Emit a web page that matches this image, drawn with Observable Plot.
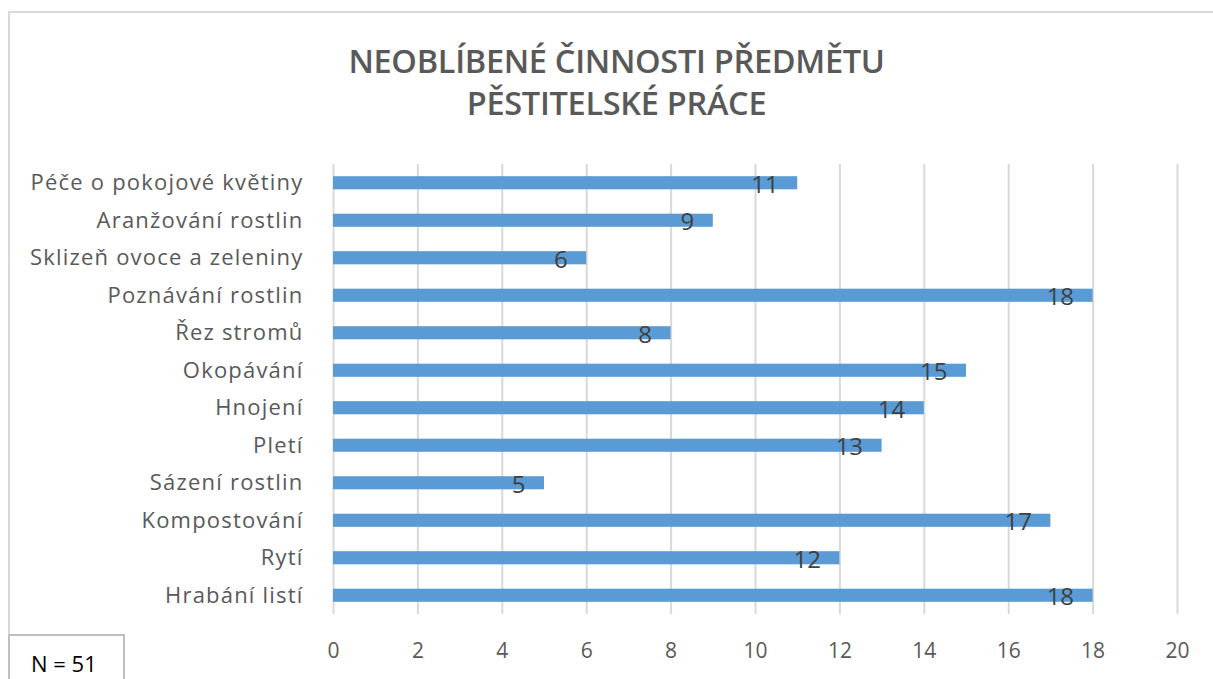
<!DOCTYPE html>
<html>
<head>
<meta charset="utf-8">
<script src="https://cdn.jsdelivr.net/npm/d3@7"></script>
<script src="https://cdn.jsdelivr.net/npm/@observablehq/plot@0.6"></script>
<style>
  html, body { margin: 0; padding: 0; background: #fff; }
  body { width: 1213px; height: 679px; position: relative; overflow: hidden; font-family: "Open Sans", sans-serif; }
  #frame { position: absolute; left: 8px; top: 11px; width: 1300px; height: 800px; border: 2px solid #d9d9d9; box-sizing: border-box; }
  #title { position: absolute; left: 10px; top: 0; width: 1213px; height: 150px; text-align: center; color: #595959; font-weight: 600; font-size: 32.5px; line-height: 42px; padding-top: 40px; box-sizing: border-box; letter-spacing: -0.3px; }
  #chart { position: absolute; left: 0; top: 150px; }
  #chart g[aria-label="y-axis tick label"] text { letter-spacing: 1.2px; }
  #nbox { position: absolute; left: 8px; top: 634px; width: 117px; height: 60px; border: 2px solid #bfbfbf; box-sizing: border-box; background: #fff; font-size: 22px; line-height: 30px; color: #000; padding: 12px 0 0 21px; }
</style>
</head>
<body>
<div id="frame"></div>
<div id="title">NEOBLÍBENÉ ČINNOSTI PŘEDMĚTU<br>PĚSTITELSKÉ PRÁCE</div>
<div id="chart"></div>
<div id="nbox">N = 51</div>
<script>
const categories = [
  "Péče o pokojové květiny",
  "Aranžování rostlin",
  "Sklizeň ovoce a zeleniny",
  "Poznávání rostlin",
  "Řez stromů",
  "Okopávání",
  "Hnojení",
  "Pletí",
  "Sázení rostlin",
  "Kompostování",
  "Rytí",
  "Hrabání listí"
];
const values = [11, 9, 6, 18, 8, 15, 14, 13, 5, 17, 12, 18];
const xTicks = [0, 2, 4, 6, 8, 10, 12, 14, 16, 18, 20];

const data = categories.map((c, i) => ({category: c, value: values[i]}));

const chart = Plot.plot({
  width: 1213,
  height: 529,
  marginLeft: 333,
  marginRight: 36,
  marginTop: 14,
  marginBottom: 65,
  style: {fontFamily: "Open Sans, sans-serif", background: "transparent", overflow: "visible"},
  x: {domain: [0, 20], ticks: xTicks, tickSize: 0, label: null},
  y: {domain: categories, paddingInner: 0.65, paddingOuter: 0.325, round: false, tickSize: 0, label: null},
  marks: [
    Plot.gridX(xTicks, {stroke: "#d9d9d9", strokeWidth: 2, strokeOpacity: 1}),
    Plot.barX(data, {x: "value", y: "category", fill: "#5b9bd5"}),
    Plot.text(data, {x: "value", y: "category", text: d => String(d.value), textAnchor: "end", dx: -19, dy: 2, fontSize: 24, fill: "#404040"}),
    Plot.axisX({ticks: xTicks, tickSize: 0, tickPadding: 29, fontSize: 21, fill: "#595959", label: null}),
    Plot.axisY({tickSize: 0, tickPadding: 30, fontSize: 22, fill: "#595959", label: null})
  ]
});
document.getElementById("chart").appendChild(chart);
</script>
</body>
</html>
